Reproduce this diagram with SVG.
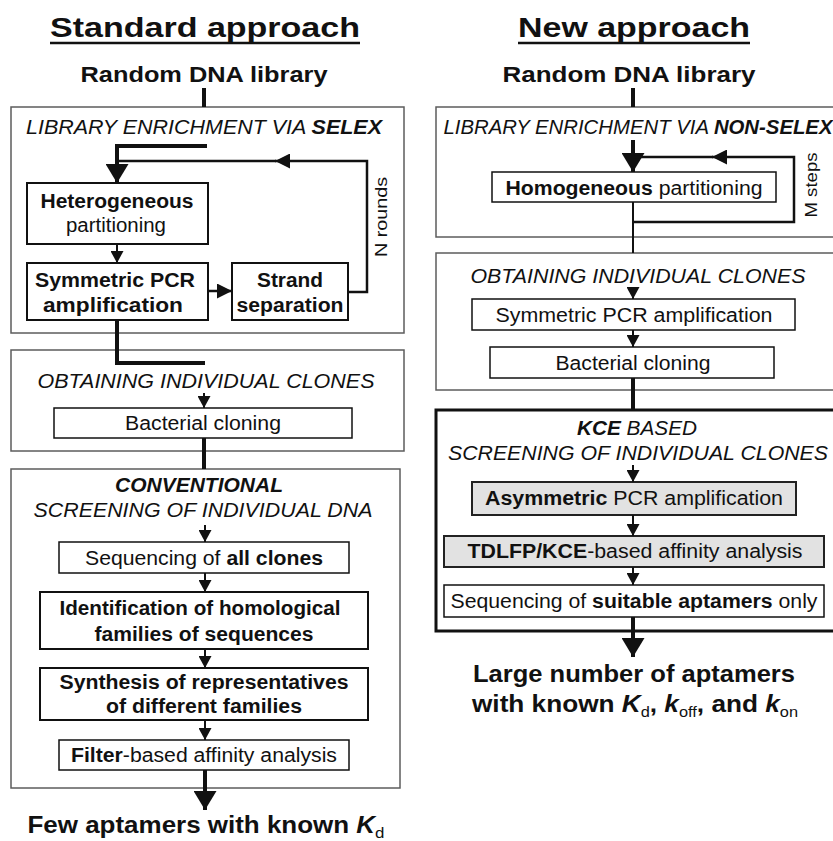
<svg xmlns="http://www.w3.org/2000/svg" width="833" height="841" viewBox="0 0 833 841">
<style>
text{font-family:"Liberation Sans",Arial,Helvetica,sans-serif;fill:#111;text-anchor:middle}
.b{font-weight:bold}
.i{font-style:italic}
.h1{font-size:28px;font-weight:bold}
.h2{font-size:22px;font-weight:bold}
.sec{font-size:20.5px;font-style:italic}
.bx{font-size:19.5px}
.fin{font-size:23px;font-weight:bold}
.sub{font-size:15px;font-weight:normal;font-style:normal}
.rot{font-size:16.5px}
.ob{fill:none;stroke:#5c5c5c;stroke-width:1.5}
.ib{fill:#fff;stroke:#111;stroke-width:1.5}
.ib2{fill:#fff;stroke:#111;stroke-width:2}
.gb{fill:#e2e2e2;stroke:#222;stroke-width:2}
.kb{fill:none;stroke:#111;stroke-width:3}
.c4{fill:none;stroke:#111;stroke-width:4}
.c2{fill:none;stroke:#111;stroke-width:2}
.c25{fill:none;stroke:#111;stroke-width:2.5}
.ul{stroke:#111;stroke-width:2.5}
</style>
<defs>
<marker id="s" viewBox="0 0 12 13" refX="12" refY="6.5" markerWidth="12" markerHeight="13" markerUnits="userSpaceOnUse" orient="auto"><path d="M0,0L12,6.5L0,13z" fill="#111"/></marker>
<marker id="m" viewBox="0 0 15 15" refX="15" refY="7.5" markerWidth="15" markerHeight="15" markerUnits="userSpaceOnUse" orient="auto"><path d="M0,0L15,7.5L0,15z" fill="#111"/></marker>
<marker id="big" viewBox="0 0 19 23" refX="19" refY="11.5" markerWidth="19" markerHeight="23" markerUnits="userSpaceOnUse" orient="auto"><path d="M0,0L19,11.5L0,23z" fill="#111"/></marker>
</defs>

<!-- Left column -->
<g id="title-left">
<text class="h1" x="205" y="37" textLength="310" lengthAdjust="spacingAndGlyphs">Standard approach</text>
<line class="ul" x1="50" y1="43" x2="360" y2="43"/>
</g>
<g id="lib-left"><text class="h2" x="204" y="82" textLength="247" lengthAdjust="spacingAndGlyphs">Random DNA library</text></g>

<g id="selex">
<rect class="ob" x="11" y="107" width="393" height="226"/>
<text class="sec" x="204" y="134" textLength="356" lengthAdjust="spacingAndGlyphs">LIBRARY ENRICHMENT VIA <tspan class="b">SELEX</tspan></text>
<text class="rot" transform="translate(387,217) rotate(-90)" textLength="80" lengthAdjust="spacingAndGlyphs">N rounds</text>
</g>
<g id="hetero">
<rect class="ib2" x="27" y="183" width="181" height="61"/>
<text class="bx b" x="117" y="208" textLength="153" lengthAdjust="spacingAndGlyphs">Heterogeneous</text>
<text class="bx" x="116" y="232" textLength="100" lengthAdjust="spacingAndGlyphs">partitioning</text>
</g>
<g id="sympcr-left">
<rect class="ib2" x="27" y="263" width="181" height="57"/>
<text class="bx b" x="115" y="287" textLength="160" lengthAdjust="spacingAndGlyphs">Symmetric PCR</text>
<text class="bx b" x="113" y="312" textLength="140" lengthAdjust="spacingAndGlyphs">amplification</text>
</g>
<g id="strand">
<rect class="ib2" x="232" y="263" width="116" height="57"/>
<text class="bx b" x="290" y="287" textLength="66" lengthAdjust="spacingAndGlyphs">Strand</text>
<text class="bx b" x="290" y="312" textLength="107" lengthAdjust="spacingAndGlyphs">separation</text>
</g>

<g id="clones-left">
<rect class="ob" x="11" y="350" width="393" height="101"/>
<text class="sec" x="206" y="388" textLength="337" lengthAdjust="spacingAndGlyphs">OBTAINING INDIVIDUAL CLONES</text>
</g>
<g id="bact-left">
<rect class="ib" x="54" y="408" width="298" height="30"/>
<text class="bx" x="203" y="430" textLength="156" lengthAdjust="spacingAndGlyphs">Bacterial cloning</text>
</g>

<g id="screen-left">
<rect class="ob" x="11" y="469" width="389" height="319"/>
<text class="sec b" x="199" y="492" textLength="168" lengthAdjust="spacingAndGlyphs">CONVENTIONAL</text>
<text class="sec" x="203" y="517" textLength="339" lengthAdjust="spacingAndGlyphs">SCREENING OF INDIVIDUAL DNA</text>
</g>
<g id="seq-all">
<rect class="ib" x="59" y="542" width="290" height="31"/>
<text class="bx" x="204" y="565" textLength="238" lengthAdjust="spacingAndGlyphs">Sequencing of <tspan class="b">all clones</tspan></text>
</g>
<g id="ident">
<rect class="ib2" x="40" y="592" width="328" height="57"/>
<text class="bx b" x="200" y="615" textLength="281" lengthAdjust="spacingAndGlyphs">Identification of homological</text>
<text class="bx b" x="204" y="641" textLength="219" lengthAdjust="spacingAndGlyphs">families of sequences</text>
</g>
<g id="synth">
<rect class="ib2" x="40" y="668" width="328" height="52"/>
<text class="bx b" x="204" y="689" textLength="289" lengthAdjust="spacingAndGlyphs">Synthesis of representatives</text>
<text class="bx b" x="204" y="713" textLength="196" lengthAdjust="spacingAndGlyphs">of different families</text>
</g>
<g id="filter">
<rect class="ib" x="59" y="740" width="290" height="30"/>
<text class="bx" x="204" y="762" textLength="266" lengthAdjust="spacingAndGlyphs"><tspan class="b">Filter</tspan>-based affinity analysis</text>
</g>
<g id="result-left">
<text class="fin" x="206" y="833" textLength="357" lengthAdjust="spacingAndGlyphs">Few aptamers with known <tspan class="i">K</tspan><tspan class="sub" dy="5">d</tspan></text>
</g>

<!-- Right column -->
<g id="title-right">
<text class="h1" x="634" y="37" textLength="232" lengthAdjust="spacingAndGlyphs">New approach</text>
<line class="ul" x1="518" y1="43" x2="750" y2="43"/>
</g>
<g id="lib-right"><text class="h2" x="629" y="82" textLength="253" lengthAdjust="spacingAndGlyphs">Random DNA library</text></g>

<g id="nonselex">
<rect class="ob" x="436" y="107" width="405" height="130"/>
<text class="sec" x="638" y="134" textLength="389" lengthAdjust="spacingAndGlyphs">LIBRARY ENRICHMENT VIA <tspan class="b">NON-SELEX</tspan></text>
<text class="rot" transform="translate(817,185) rotate(-90)" textLength="65" lengthAdjust="spacingAndGlyphs">M steps</text>
</g>
<g id="homog">
<rect class="ib" x="492" y="172" width="284" height="30"/>
<text class="bx" x="634" y="195" textLength="257" lengthAdjust="spacingAndGlyphs"><tspan class="b">Homogeneous</tspan> partitioning</text>
</g>

<g id="clones-right">
<rect class="ob" x="436" y="253" width="405" height="137"/>
<text class="sec" x="638" y="283" textLength="335" lengthAdjust="spacingAndGlyphs">OBTAINING INDIVIDUAL CLONES</text>
</g>
<g id="sympcr-right">
<rect class="ib" x="472" y="299" width="323" height="31"/>
<text class="bx" x="634" y="322" textLength="277" lengthAdjust="spacingAndGlyphs">Symmetric PCR amplification</text>
</g>
<g id="bact-right">
<rect class="ib" x="490" y="347" width="284" height="31"/>
<text class="bx" x="633" y="370" textLength="155" lengthAdjust="spacingAndGlyphs">Bacterial cloning</text>
</g>

<g id="screen-right">
<rect class="kb" x="436" y="410" width="405" height="221"/>
<text class="sec" x="637" y="435" textLength="120" lengthAdjust="spacingAndGlyphs"><tspan class="b">KCE</tspan> BASED</text>
<text class="sec" x="638" y="460" textLength="380" lengthAdjust="spacingAndGlyphs">SCREENING OF INDIVIDUAL CLONES</text>
</g>
<g id="asym">
<rect class="gb" x="472" y="482" width="324" height="33"/>
<text class="bx" x="634" y="505" textLength="298" lengthAdjust="spacingAndGlyphs"><tspan class="b">Asymmetric</tspan> PCR amplification</text>
</g>
<g id="tdlfp">
<rect class="gb" x="444" y="536" width="380" height="31"/>
<text class="bx" x="635" y="558" textLength="335" lengthAdjust="spacingAndGlyphs"><tspan class="b">TDLFP/KCE</tspan>-based affinity analysis</text>
</g>
<g id="seq-suitable">
<rect class="ib" x="444" y="585" width="380" height="32"/>
<text class="bx" x="634" y="608" textLength="367" lengthAdjust="spacingAndGlyphs">Sequencing of <tspan class="b">suitable aptamers</tspan> only</text>
</g>
<g id="result-right">
<text class="fin" style="font-size:24px" x="634" y="682" textLength="322" lengthAdjust="spacingAndGlyphs">Large number of aptamers</text>
<text class="fin" style="font-size:24px" x="635" y="712" textLength="326" lengthAdjust="spacingAndGlyphs">with known <tspan class="i">K</tspan><tspan class="sub" dy="5">d</tspan><tspan dy="-5">, </tspan><tspan class="i">k</tspan><tspan class="sub" dy="5">off</tspan><tspan dy="-5">, and </tspan><tspan class="i">k</tspan><tspan class="sub" dy="5">on</tspan></text>
</g>

<g id="connectors">
<!-- left -->
<path class="c4" d="M204,88V107"/>
<path class="c4" d="M207,146H117V183" marker-end="url(#big)"/>
<path class="c25" d="M348,292H367V161H275" marker-end="url(#m)"/>
<path class="c25" d="M276,161H117"/>
<path class="c2" d="M117,244V263" marker-end="url(#s)"/>
<path class="c25" d="M208,291H232" marker-end="url(#m)"/>
<path class="c4" d="M117,320V363H205"/>
<path class="c2" d="M204,393V408" marker-end="url(#s)"/>
<path class="c4" d="M204,438V469"/>
<path class="c2" d="M205,525V542" marker-end="url(#s)"/>
<path class="c2" d="M205,573V592" marker-end="url(#s)"/>
<path class="c2" d="M205,649V668" marker-end="url(#s)"/>
<path class="c2" d="M205,720V740" marker-end="url(#s)"/>
<path class="c4" d="M205,770V810" marker-end="url(#big)"/>
<!-- right -->
<path class="c4" d="M633,88V107"/>
<path class="c4" d="M633,140V172" marker-end="url(#big)"/>
<path class="c25" d="M633,222H794V157H712" marker-end="url(#m)"/>
<path class="c25" d="M713,157H633"/>
<path class="c2" d="M633,202V253"/>
<path class="c2" d="M633,287V299" marker-end="url(#s)"/>
<path class="c2" d="M633,330V347" marker-end="url(#s)"/>
<path class="c4" d="M633,378V410"/>
<path class="c2" d="M633,465V482" marker-end="url(#s)"/>
<path class="c2" d="M633,515V536" marker-end="url(#s)"/>
<path class="c2" d="M633,567V585" marker-end="url(#s)"/>
<path class="c4" d="M633,617V657" marker-end="url(#big)"/>
</g>
</svg>
